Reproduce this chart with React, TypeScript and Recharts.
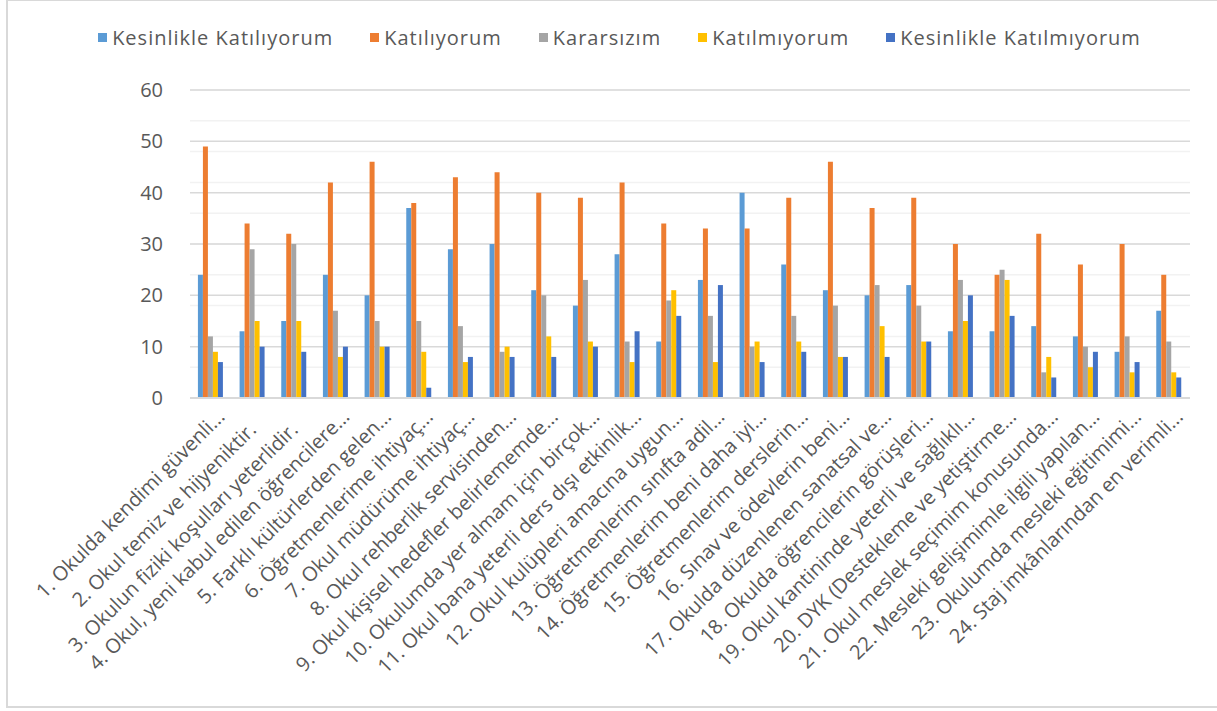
import React from 'react'
import { BarChart, Bar, XAxis, YAxis, CartesianGrid, Legend } from 'recharts'

const categories = [
  '1. Okulda kendimi güvenli...',
  '2. Okul temiz ve hijyeniktir.',
  '3. Okulun fiziki koşulları yeterlidir.',
  '4. Okul, yeni kabul edilen öğrencilere...',
  '5. Farklı kültürlerden gelen...',
  '6. Öğretmenlerime ihtiyaç...',
  '7. Okul müdürüme ihtiyaç...',
  '8. Okul rehberlik servisinden...',
  '9. Okul kişisel hedefler belirlememde...',
  '10. Okulumda yer almam için birçok...',
  '11. Okul bana yeterli ders dışı etkinlik...',
  '12. Okul kulüpleri amacına uygun...',
  '13. Öğretmenlerim sınıfta adil...',
  '14. Öğretmenlerim beni daha iyi...',
  '15. Öğretmenlerim derslerin...',
  '16. Sınav ve ödevlerin beni...',
  '17. Okulda düzenlenen sanatsal ve...',
  '18. Okulda öğrencilerin görüşleri...',
  '19. Okul kantininde yeterli ve sağlıklı...',
  '20. DYK (Destekleme ve yetiştirme...',
  '21. Okul meslek seçimim konusunda...',
  '22. Mesleki gelişimimle ilgili yapılan...',
  '23. Okulumda mesleki eğitimimi...',
  '24. Staj imkânlarından en verimli...',
]

const kesinlikleKatiliyorum = [24, 13, 15, 24, 20, 37, 29, 30, 21, 18, 28, 11, 23, 40, 26, 21, 20, 22, 13, 13, 14, 12, 9, 17]
const katiliyorum = [49, 34, 32, 42, 46, 38, 43, 44, 40, 39, 42, 34, 33, 33, 39, 46, 37, 39, 30, 24, 32, 26, 30, 24]
const kararsizim = [12, 29, 30, 17, 15, 15, 14, 9, 20, 23, 11, 19, 16, 10, 16, 18, 22, 18, 23, 25, 5, 10, 12, 11]
const katilmiyorum = [9, 15, 15, 8, 10, 9, 7, 10, 12, 11, 7, 21, 7, 11, 11, 8, 14, 11, 15, 23, 8, 6, 5, 5]
const kesinlikleKatilmiyorum = [7, 10, 9, 10, 10, 2, 8, 8, 8, 10, 13, 16, 22, 7, 9, 8, 8, 11, 20, 16, 4, 9, 7, 4]

const yTicks = [0, 10, 20, 30, 40, 50, 60]
const minorLines = [0, 2, 4, 6, 8, 10, 12, 14, 16, 18, 20, 22, 24, 26, 28, 30, 32, 34, 36, 38, 40, 42, 44, 46, 48, 50, 52, 54, 56, 58, 60]

const series = [
  { key: 'kk', name: 'Kesinlikle Katılıyorum', color: '#5B9BD5' },
  { key: 'k', name: 'Katılıyorum', color: '#ED7D31' },
  { key: 'kr', name: 'Kararsızım', color: '#A5A5A5' },
  { key: 'km', name: 'Katılmıyorum', color: '#FFC000' },
  { key: 'kkm', name: 'Kesinlikle Katılmıyorum', color: '#4472C4' },
]

const data = categories.map((name, i) => ({
  name,
  kk: kesinlikleKatiliyorum[i],
  k: katiliyorum[i],
  kr: kararsizim[i],
  km: katilmiyorum[i],
  kkm: kesinlikleKatilmiyorum[i],
}))

const FONT = '"Open Sans", "Noto Sans", sans-serif'

// Excel puts the cut-off labels a little higher than the full ones
const CategoryTick = ({ x, y, payload }: any) => {
  const truncated = String(payload.value).endsWith('...')
  const ax = x + (truncated ? 15 : 5)
  const ay = y + (truncated ? 18 : 31)
  return (
    <text
      x={ax}
      y={ay}
      transform={`rotate(-45 ${ax} ${ay})`}
      textAnchor="end"
      fill="#595959"
      fontSize={20}
      fontFamily={FONT}
    >
      {payload.value}
    </text>
  )
}

const LegendContent = () => (
  <div style={{ display: 'flex', justifyContent: 'center', gap: 37, paddingLeft: 22, fontFamily: FONT, fontSize: 20, letterSpacing: 1, color: '#595959' }}>
    {series.map(s => (
      <div key={s.key} style={{ display: 'flex', alignItems: 'center', gap: 5 }}>
        <span style={{ width: 9, height: 9, background: s.color, display: 'inline-block' }} />
        <span>{s.name}</span>
      </div>
    ))}
  </div>
)

export default function App() {
  return (
    <div style={{ position: 'absolute', left: 0, top: 0, width: 1217, height: 711, background: '#fff' }}>
      <div style={{ position: 'absolute', left: 6, top: -1, width: 1220, height: 709, border: '2px solid #d9d9d9', boxSizing: 'border-box' }} />
      <BarChart
        width={1217}
        height={711}
        data={data}
        margin={{ top: 90, right: 27, left: 130, bottom: 0 }}
        barGap={0}
        barCategoryGap="19%"
      >
        <CartesianGrid horizontalValues={minorLines} vertical={false} stroke="#f2f2f2" strokeWidth={1.5} />
        <CartesianGrid horizontalValues={yTicks} vertical={false} stroke="#d9d9d9" strokeWidth={1.5} />
        <XAxis
          dataKey="name"
          interval={0}
          height={313}
          tick={<CategoryTick />}
          tickLine={false}
          tickSize={0}
          axisLine={{ stroke: '#d9d9d9', strokeWidth: 2 }}
        />
        <YAxis
          width={60}
          domain={[0, 60]}
          ticks={yTicks}
          axisLine={false}
          tickLine={false}
          tickSize={0}
          tickMargin={27}
          tick={{ fill: '#595959', fontSize: 20, fontFamily: FONT }}
        />
        <Legend
          verticalAlign="middle"
          align="center"
          content={<LegendContent />}
          wrapperStyle={{ top: 24, left: 0, width: 1217 }}
        />
        {series.map(s => (
          <Bar key={s.key} dataKey={s.key} name={s.name} fill={s.color} isAnimationActive={false} />
        ))}
      </BarChart>
    </div>
  )
}
